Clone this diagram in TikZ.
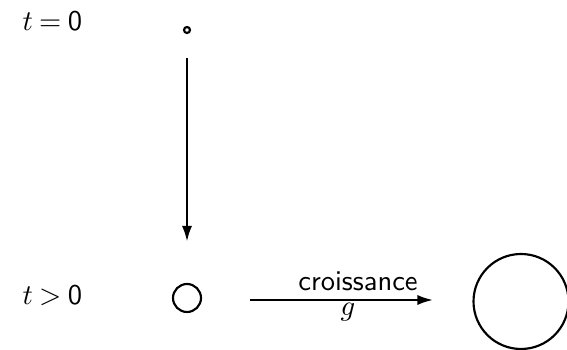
\documentclass[tikz,border=0pt]{standalone}
\usetikzlibrary{arrows.meta}
\begin{document}
\begin{tikzpicture}[x=0.35pt,y=-0.35pt,
  lbl/.style={font=\sffamily,inner sep=0pt},
  cellshape/.style={circle,draw,line width=0.75pt,inner sep=0pt},
  arr/.style={line width=0.75pt,-{Latex[length=5.5pt,width=3.6pt]}}]
\useasboundingbox (0,0) rectangle (567,350);
\node[lbl,anchor=base west] (tzero) at (22,31) {$t \mkern-1mu = \mkern-1mu \mathsf{0}$};
\node[lbl,anchor=base west] (tpos) at (22,305) {$t \mkern-1mu > \mkern-1mu \mathsf{0}$};
\node[cellshape,minimum size=6*0.35pt] (seed) at (187,30) {};
\node[cellshape,minimum size=28*0.35pt] (cell) at (187,298) {};
\node[cellshape,minimum size=95*0.35pt] (big) at (521,301.5) {};
\draw[arr,shorten <=8.5pt,shorten >=14.5pt] (seed) -- (cell);
\coordinate (hs) at (250,300);
\coordinate (he) at (433,300);
\draw[arr] (hs) -- (he);
\node[lbl,anchor=base] (lab1) at (358,291) {croissance};
\node[lbl,anchor=base] (lab2) at (348,316) {$g$};
\end{tikzpicture}
\end{document}
